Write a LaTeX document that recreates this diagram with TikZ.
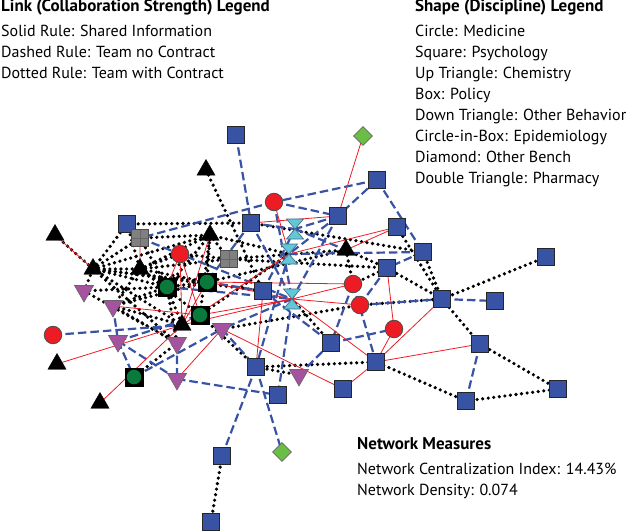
\documentclass[tikz,border=0pt]{standalone}
\usepackage{fontspec}
\setmainfont{PT Sans}
\usetikzlibrary{shapes.geometric,backgrounds}
\definecolor{psyblue}{RGB}{57,83,164}
\definecolor{medred}{RGB}{237,28,36}
\definecolor{othpurple}{RGB}{165,82,160}
\definecolor{epigreen}{RGB}{10,122,60}
\definecolor{benchgreen}{RGB}{106,189,69}
\definecolor{pharcyan}{RGB}{98,200,214}
\definecolor{pharline}{RGB}{70,110,140}
\definecolor{polgrey}{RGB}{128,128,128}
\definecolor{linkred}{RGB}{237,28,36}
\definecolor{linkblue}{RGB}{57,83,164}
\tikzset{
  psych/.style={
    shape = rectangle,
    draw = black!85,
    fill = psyblue,
    line width = 1pt,
    minimum size = 17pt,
    inner sep = 0
  },
  medicine/.style={
    shape = circle,
    draw = black!70,
    fill = medred,
    line width = 0.8pt,
    minimum size = 17.5pt,
    inner sep = 0
  },
  chem/.style={
    regular polygon,
    regular polygon sides = 3,
    draw,
    fill = black,
    minimum size = 21pt,
    inner sep = 0
  },
  othbeh/.style={
    regular polygon,
    regular polygon sides = 3,
    shape border rotate = 180,
    draw = black!60,
    fill = othpurple,
    line width = 0.6pt,
    minimum size = 22pt,
    inner sep = 0
  },
  policy/.style={
    shape = rectangle,
    draw = black!70,
    fill = polgrey,
    line width = 0.8pt,
    minimum size = 17pt,
    inner sep = 0,
    path picture={
      \draw[black!60, line width=0.8pt]
        (path picture bounding box.north) -- (path picture bounding box.south)
        (path picture bounding box.west) -- (path picture bounding box.east);
    }
  },
  epid/.style={
    shape = rectangle,
    draw,
    fill = black,
    minimum size = 18pt,
    inner sep = 0,
    path picture={
      \fill[epigreen] (path picture bounding box.center) circle (7.3pt);
    }
  },
  bench/.style={
    shape = diamond,
    draw = black!60,
    fill = benchgreen,
    line width = 0.6pt,
    minimum width = 19pt,
    minimum height = 19pt,
    inner sep = 0
  },
  pharm/.style={
    shape = rectangle,
    minimum width = 20pt,
    minimum height = 24pt,
    inner sep = 0,
    path picture={
      \filldraw[fill=pharcyan, draw=pharline, line width=0.7pt]
        ([xshift=-8.5pt,yshift=10pt]path picture bounding box.center)
        -- ([xshift=8.5pt,yshift=10pt]path picture bounding box.center)
        -- (path picture bounding box.center) -- cycle
        ([xshift=-8.5pt,yshift=-10pt]path picture bounding box.center)
        -- ([xshift=8.5pt,yshift=-10pt]path picture bounding box.center)
        -- (path picture bounding box.center) -- cycle;
    }
  },
  info/.style={linkred, line width=0.8pt},
  teamnc/.style={linkblue, line width=2.2pt, dash pattern=on 8.5pt off 4pt},
  teamc/.style={black, line width=3.6pt, line cap=round, dash pattern=on 0pt off 5.6pt},
  legtitle/.style={anchor=base west, inner sep=0, font=\fontsize{17}{20}\selectfont\bfseries},
  legtext/.style={anchor=base west, inner sep=0, font=\fontsize{16}{19}\selectfont}
}

\begin{document}
\begin{tikzpicture}[x=1pt,y=-1pt]
  \useasboundingbox (0,0) rectangle (627,532);
  % legends
  \node[legtitle] (lt) at (1,11.5) {Link (Collaboration Strength) Legend};
  \node[legtext] (l1) at (1,36.5) {Solid Rule: Shared Information};
  \node[legtext] (l2) at (1,58) {Dashed Rule: Team no Contract};
  \node[legtext] (l3) at (1,79) {Dotted Rule: Team with Contract};
  \node[legtitle] (st) at (415,11.5) {Shape (Discipline) Legend};
  \node[legtext] (s1) at (415,36.5) {Circle: Medicine};
  \node[legtext] (s2) at (415,58) {Square: Psychology};
  \node[legtext] (s3) at (415,79) {Up Triangle: Chemistry};
  \node[legtext] (s4) at (415,100) {Box: Policy};
  \node[legtext] (s5) at (415,121) {Down Triangle: Other Behavior};
  \node[legtext] (s6) at (415,142) {Circle-in-Box: Epidemiology};
  \node[legtext] (s7) at (415,163) {Diamond: Other Bench};
  \node[legtext] (s8) at (415,184) {Double Triangle: Pharmacy};
  \node[legtitle] (nt) at (357,449) {Network Measures};
  \node[legtext] (n1) at (357,474) {Network Centralization Index: 14.43\%};
  \node[legtext] (n2) at (357,495) {Network Density: 0.074};

  % medicine
  \node[medicine] (m1) at (274,202) {};
  \node[medicine] (m2) at (180,254) {};
  \node[medicine] (m3) at (53,335) {};
  \node[medicine] (m4) at (353,284) {};
  \node[medicine] (m5) at (360,305) {};
  \node[medicine] (m6) at (394,329) {};
  % psychology
  \node[psych] (p1) at (236,135) {};
  \node[psych] (p2) at (127,224) {};
  \node[psych] (p3) at (251,223) {};
  \node[psych] (p4) at (338,216) {};
  \node[psych] (p5) at (377,180) {};
  \node[psych] (p6) at (397,227) {};
  \node[psych] (p7) at (423,252) {};
  \node[psych] (p8) at (387,268) {};
  \node[psych] (p9) at (546,257) {};
  \node[psych] (p10) at (442,299) {};
  \node[psych] (p11) at (495,301) {};
  \node[psych] (p12) at (263,291) {};
  \node[psych] (p13) at (331,343) {};
  \node[psych] (p14) at (376,362) {};
  \node[psych] (p15) at (480,344) {};
  \node[psych] (p16) at (256,367) {};
  \node[psych] (p17) at (278,395) {};
  \node[psych] (p18) at (343,389) {};
  \node[psych] (p19) at (466,401) {};
  \node[psych] (p20) at (558,389) {};
  \node[psych] (p21) at (222,456) {};
  \node[psych] (p22) at (211,522) {};
  % chemistry
  \node[chem] (c1) at (206,170) {};
  \node[chem] (c2) at (55,235) {};
  \node[chem] (c3) at (210,235) {};
  \node[chem] (c4) at (93,269) {};
  \node[chem] (c5) at (140,269) {};
  \node[chem] (c6) at (346,250) {};
  \node[chem] (c7) at (182,325) {};
  \node[chem] (c8) at (57,364) {};
  \node[chem] (c9) at (100,403) {};
  % policy
  \node[policy] (b1) at (140,238) {};
  \node[policy] (b2) at (229,259) {};
  % other behavior
  \node[othbeh] (o1) at (84,291) {};
  \node[othbeh] (o2) at (113,306) {};
  \node[othbeh] (o3) at (222,329) {};
  \node[othbeh] (o4) at (118,341) {};
  \node[othbeh] (o5) at (177,343) {};
  \node[othbeh] (o6) at (177,379) {};
  \node[othbeh] (o7) at (299,375) {};
  % epidemiology
  \node[epid] (e1) at (167,287) {};
  \node[epid] (e2) at (207,282) {};
  \node[epid] (e3) at (200,315) {};
  \node[epid] (e4) at (134,377) {};
  % other bench
  \node[bench] (d1) at (363,136) {};
  \node[bench] (d2) at (282,452) {};
  % pharmacy
  \node[pharm] (h1) at (295,229) {};
  \node[pharm] (h2) at (289,254) {};
  \node[pharm] (h3) at (292,299) {};

  \begin{scope}[on background layer]
    % team with contract
    \draw[teamc] (p2.center) -- (p3.center) (p2.center) -- (c4.center)
      (c1.center) -- (p12.center) (p3.center) -- (p7.center)
      (b2.center) -- (c6.center) (b2.center) -- (p8.center)
      (c6.center) -- (m4.center) (m4.center) -- (p8.center)
      (c6.center) -- (p8.center) (m5.center) -- (p10.center)
      (p8.center) -- (p10.center) (p7.center) -- (p10.center)
      (p6.center) -- (p10.center) (p9.center) -- (p10.center)
      (p10.center) -- (p15.center) (p15.center) -- (p20.center)
      (p19.center) -- (p20.center) (p19.center) -- (p14.center)
      (p16.center) -- (p14.center) (p16.center) -- (o7.center)
      (h3.center) -- (p13.center) (o3.center) -- (m5.center)
      (p21.center) -- (p22.center) (c2.center) -- (c4.center)
      (o1.center) -- (c4.center) (o1.center) -- (e1.center)
      (o2.center) -- (e1.center) (o2.center) -- (c7.center)
      (o2.center) -- (o5.center) (e4.center) -- (o5.center)
      (c4.center) -- (c5.center) (c4.center) -- (e2.center)
      (c4.center) -- (c3.center) (c5.center) -- (e1.center)
      (c5.center) -- (c3.center) (c5.center) -- (m2.center)
      (b1.center) -- (c3.center) (b1.center) -- (e1.center)
      (e1.center) -- (c7.center) (c5.center) -- (e3.center)
      (c4.center) -- (o5.center) (c3.center) -- (b2.center)
      (c4.center) -- (p12.center) (e2.center) -- (c6.center)
      (c3.center) -- (h2.center) (m2.center) -- (b2.center)
      (p2.center) -- (c5.center) (o1.center) -- (o5.center)
      (e1.center) -- (e2.center) (c5.center) -- (e2.center)
      (e1.center) -- (o5.center) (o2.center) -- (c5.center)
      (c4.center) -- (e1.center) (e2.center) -- (c3.center)
      (e1.center) -- (c3.center) (c4.center) -- (c7.center)
      (b1.center) -- (c4.center) (c3.center) -- (e3.center)
      (e3.center) -- (p16.center) (o2.center) -- (e2.center)
      (c5.center) -- (b2.center) (e3.center) -- (h2.center);
    % team no contract
    \draw[teamnc] (p1.center) -- (p3.center) (p5.center) -- (m1.center)
      (p5.center) -- (p4.center) (p5.center) -- (p7.center)
      (m1.center) -- (p4.center) (m1.center) -- (b1.center)
      (p3.center) -- (h1.center) (p3.center) -- (e2.center)
      (p4.center) -- (h2.center) (p4.center) -- (h3.center)
      (h2.center) -- (p7.center) (p7.center) -- (p8.center)
      (p8.center) -- (m5.center) (m5.center) -- (p10.center)
      (p10.center) -- (p11.center) (p15.center) -- (p19.center)
      (m4.center) -- (p14.center) (p13.center) -- (m6.center)
      (o3.center) -- (p16.center) (p16.center) -- (p21.center)
      (p16.center) -- (d2.center) (o6.center) -- (p17.center)
      (h3.center) -- (p17.center) (p13.center) -- (o7.center)
      (m3.center) -- (c7.center) (o2.center) -- (o4.center)
      (o4.center) -- (e4.center) (o4.center) -- (e3.center)
      (o4.center) -- (o6.center) (e4.center) -- (o3.center)
      (o5.center) -- (o6.center) (b1.center) -- (m2.center)
      (p4.center) -- (h1.center) (b1.center) -- (h3.center)
      (e1.center) -- (h3.center) (p12.center) -- (h1.center)
      (p12.center) -- (p13.center) (h2.center) -- (p16.center)
      (p3.center) -- (h3.center) (m1.center) -- (h3.center)
      (h3.center) -- (o3.center) (m4.center) -- (p13.center)
      (e2.center) -- (p12.center) (h1.center) -- (c6.center);
    % shared information
    \draw[info] (d1.center) -- (p4.center) (m1.center) -- (h2.center)
      (p3.center) -- (p4.center) (p6.center) -- (c6.center)
      (h2.center) -- (p6.center) (p8.center) -- (m6.center)
      (p10.center) -- (p14.center) (h3.center) -- (m4.center)
      (h3.center) -- (m5.center) (h3.center) -- (p14.center)
      (m6.center) -- (p14.center) (p12.center) -- (p16.center)
      (o3.center) -- (p18.center) (p18.center) -- (p14.center)
      (p14.center) -- (p15.center) (c2.center) -- (c4.center)
      (b1.center) -- (c5.center) (o2.center) -- (e3.center)
      (c8.center) -- (c7.center) (c9.center) -- (c7.center)
      (o6.center) -- (o3.center) (c7.center) -- (m2.center)
      (m2.center) -- (e1.center) (m2.center) -- (e3.center)
      (c7.center) -- (c3.center) (c7.center) -- (h3.center)
      (c7.center) -- (h2.center) (e2.center) -- (h3.center)
      (e3.center) -- (h3.center) (e2.center) -- (m4.center)
      (c7.center) -- (e2.center);
  \end{scope}
\end{tikzpicture}
\end{document}
